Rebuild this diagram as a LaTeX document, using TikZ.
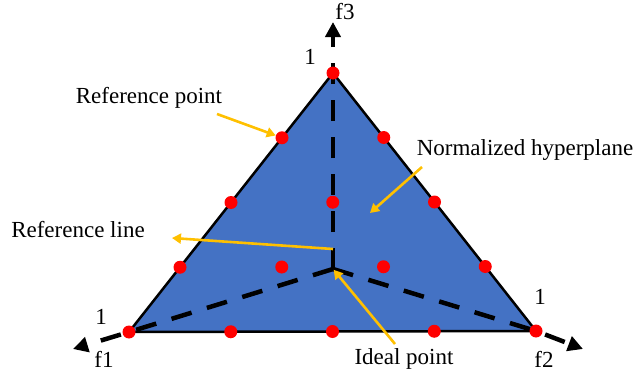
\documentclass[tikz,border=0pt]{standalone}
\usepackage{fontspec}
\setmainfont{Liberation Serif}
\usepackage{tikz}
\usetikzlibrary{calc,arrows.meta}
\definecolor{planeBlue}{RGB}{68,114,196}
\definecolor{refRed}{RGB}{255,0,0}
\definecolor{noteGold}{RGB}{255,192,0}

\begin{document}
\begin{tikzpicture}[x=1pt,y=-1pt,
  refdot/.style={circle,fill=refRed,inner sep=0pt,minimum size=13pt},
  axisline/.style={line width=4.5pt,dash pattern=on 21pt off 16pt,-{Triangle[length=15pt,width=15pt]}},
  pointer/.style={noteGold,line width=2.6pt,-{Triangle[length=9pt,width=10pt]}},
  lbl/.style={font=\fontsize{23}{27}\selectfont,inner sep=0pt}]
\useasboundingbox (0,0) rectangle (633,372);

% corners of the hyperplane and the ideal point
\coordinate (A) at (129,332);
\coordinate (B) at (536,331);
\coordinate (C) at (333,73);
\coordinate (O) at (333,269);
\coordinate (f1tip) at (73,349);
\coordinate (f2tip) at (583,349);
\coordinate (f3tip) at (333,22);

% plane
\fill[planeBlue] (A) -- (B) -- (C) -- cycle;

% axes through the ideal point
\draw[axisline] (O) -- (A) -- (f1tip);
\draw[axisline] (O) -- (B) -- (f2tip);
\draw[axisline] (O) -- (C) -- (f3tip);

\draw[line width=2.5pt] (A) -- (B) -- (C) -- cycle;

% reference points on the simplex lattice
\foreach \i in {0,...,4}{
  \pgfmathtruncatemacro{\jmax}{4-\i}
  \foreach \j in {0,...,\jmax}{
    \pgfmathsetmacro{\wa}{\i/4}
    \pgfmathsetmacro{\wb}{\j/4}
    \pgfmathsetmacro{\wc}{(4-\i-\j)/4}
    \node[refdot] (p\i\j) at ($\wa*(A)+\wb*(B)+\wc*(C)$) {};
  }
}

% labels
\node[lbl] (one3) at (310,57) {1};
\node[lbl] (one1) at (101,317) {1};
\node[lbl] (one2) at (540,297) {1};
\node[lbl] (lf3) at (345,12) {f3};
\node[lbl] (lf1) at (104,359) {f1};
\node[lbl] (lf2) at (544,359) {f2};
\node[lbl] (refpt) at (149,98) {Reference point};
\node[lbl] (hyper) at (525,150) {Normalized hyperplane};
\node[lbl] (refline) at (78,230) {Reference line};
\node[lbl] (ideal) at (404,359) {Ideal point};

% pointers
\coordinate (rpS) at (217,114);
\coordinate (hpS) at (422,167);
\coordinate (hpE) at (370,213);
\coordinate (rlS) at (333,249);
\coordinate (rlE) at (172,238);
\coordinate (ipS) at (395,344);
\draw[pointer] (rpS) -- (p10);
\draw[pointer] (hpS) -- (hpE);
\draw[pointer] (rlS) -- (rlE);
\draw[pointer,shorten >=1pt] (ipS) -- (O);
\end{tikzpicture}
\end{document}
